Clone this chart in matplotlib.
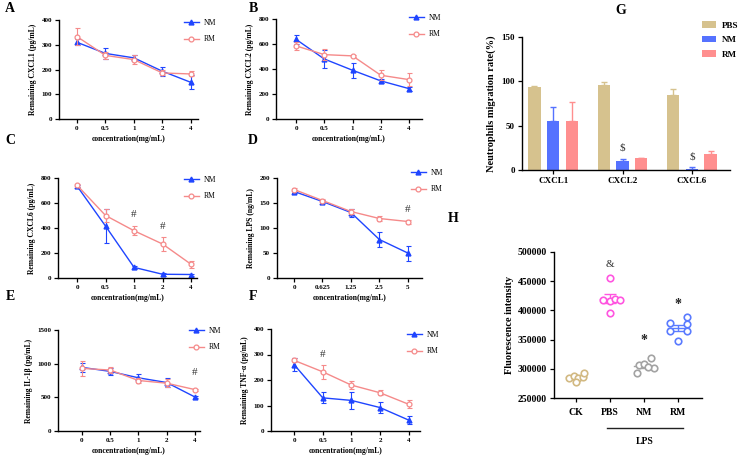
import numpy as np
import matplotlib
matplotlib.use('Agg')
from matplotlib import pyplot as plt
from matplotlib import transforms

plt.rcParams['font.family'] = ['Liberation Serif', 'DejaVu Serif']
plt.rcParams['font.weight'] = 'bold'
plt.rcParams['axes.linewidth'] = 1.0

W, H = 740, 457

NM_COLOR = '#1f45ff'
RM_COLOR = '#f58a8a'

# --- line panels A-F ---
conc = ['0', '0.5', '1', '2', '4']
conc_lps = ['0', '0.625', '1.25', '2.5', '5']

cxcl1_nm = [310, 265, 247, 193, 148]
cxcl1_nm_err = [12, 22, 10, 18, 28]
cxcl1_rm = [333, 257, 240, 186, 182]
cxcl1_rm_err = [35, 15, 17, 10, 10]

cxcl2_nm = [637, 480, 390, 305, 243]
cxcl2_nm_err = [35, 75, 60, 15, 15]
cxcl2_rm = [585, 515, 505, 350, 315]
cxcl2_rm_err = [35, 45, 10, 40, 50]

cxcl6_nm = [735, 415, 85, 30, 28]
cxcl6_nm_err = [10, 135, 15, 10, 8]
cxcl6_rm = [742, 500, 378, 272, 110]
cxcl6_rm_err = [10, 50, 35, 55, 30]

lps_nm = [173, 153, 131, 77, 50]
lps_nm_err = [3, 3, 8, 15, 15]
lps_rm = [177, 155, 133, 119, 113]
lps_rm_err = [3, 3, 5, 5, 4]

il1b_nm = [945, 885, 790, 720, 505]
il1b_nm_err = [70, 50, 50, 70, 20]
il1b_rm = [930, 905, 750, 710, 615]
il1b_rm_err = [110, 50, 30, 60, 15]

tnfa_nm = [260, 130, 120, 92, 43]
tnfa_nm_err = [25, 22, 32, 20, 17]
tnfa_rm = [277, 232, 180, 150, 105]
tnfa_rm_err = [8, 28, 15, 10, 15]

# --- panel G ---
chemokines = ['CXCL1', 'CXCL2', 'CXCL6']
mig_pbs = [94, 96, 85]
mig_pbs_err = [1, 3, 6]
mig_nm = [55, 10, 1]
mig_nm_err = [16, 2, 2]
mig_rm = [55, 13, 18]
mig_rm_err = [22, 1, 3]

# --- panel H ---
h_groups = ['CK', 'PBS', 'NM', 'RM']
h_ck = [284000, 287000, 285000, 286000, 292000, 278000]
h_pbs = [455000, 418000, 416000, 419000, 417000, 395000]
h_nm = [306000, 293000, 318000, 308000, 302000, 303000]
h_rm = [378000, 388000, 377000, 365000, 365000, 348000]

fig = plt.figure(figsize=(W / 100, H / 100), dpi=100)


def add_ax(left, top, right, bottom):
    return fig.add_axes([left / W, 1 - bottom / H, (right - left) / W, (bottom - top) / H])


def style_ax(ax, fs):
    ax.spines['top'].set_visible(False)
    ax.spines['right'].set_visible(False)
    ax.tick_params(direction='out', length=3, width=0.9, labelsize=fs, pad=2)
    for t in ax.get_xticklabels() + ax.get_yticklabels():
        t.set_fontweight('bold')


def line_panel(box, xlim, labels, nm, nm_err, rm, rm_err, ymax, ystep,
               ylabel, leg_xy, marks):
    ax = add_ax(*box)
    x = np.arange(len(labels))
    ax.errorbar(x, nm, yerr=nm_err, fmt='none', ecolor=NM_COLOR,
                elinewidth=0.8, capsize=1.8, capthick=0.8)
    ax.plot(x, nm, color=NM_COLOR, marker='^', ms=3.5, lw=1.0, label='NM')
    ax.errorbar(x, rm, yerr=rm_err, fmt='none', ecolor=RM_COLOR,
                elinewidth=0.8, capsize=1.8, capthick=0.8)
    ax.plot(x, rm, color=RM_COLOR, marker='o', ms=3.5, lw=1.0, mfc='white',
            mew=0.9, label='RM')
    ax.set_xlim(*xlim)
    ax.set_ylim(0, ymax)
    ax.set_xticks(x)
    ax.set_xticklabels(labels)
    ax.set_yticks(np.arange(0, ymax + 1, ystep))
    ax.set_xlabel('concentration(mg/mL)', fontsize=5.5, fontweight='bold', labelpad=3)
    ax.set_ylabel(ylabel, fontsize=5.5, fontweight='bold', labelpad=3)
    style_ax(ax, 5)
    # marks are (category index, y value)
    for mx, my in marks:
        ax.text(mx, my, '#', ha='center', va='center', fontsize=8,
                fontweight='normal', color='#333333')
    ax.legend(loc='center left', bbox_to_anchor=(leg_xy[0] / W, 1 - leg_xy[1] / H),
              bbox_transform=fig.transFigure, frameon=False,
              handlelength=2.0, labelspacing=1.1, borderpad=0, handletextpad=0.6,
              prop={'weight': 'normal', 'size': 5.5})
    return ax


line_panel((59, 20, 198, 119), (-0.63, 4.25), conc, cxcl1_nm, cxcl1_nm_err,
           cxcl1_rm, cxcl1_rm_err, 400, 100, 'Remaining CXCL1 (pg/mL)',
           (180, 31), [])
line_panel((276, 19, 422, 119), (-0.71, 4.46), conc, cxcl2_nm, cxcl2_nm_err,
           cxcl2_rm, cxcl2_rm_err, 800, 200, 'Remaining CXCL2 (pg/mL)',
           (405, 26), [])
line_panel((58, 178, 197, 278), (-0.67, 4.21), conc, cxcl6_nm, cxcl6_nm_err,
           cxcl6_rm, cxcl6_rm_err, 800, 200, 'Remaining CXCL6 (pg/mL)',
           (180, 188), [(2, 510), (3, 410)])
line_panel((277, 178, 422, 278), (-0.6, 4.5), conc_lps, lps_nm, lps_nm_err,
           lps_rm, lps_rm_err, 200, 50, 'Remaining LPS (ng/mL)',
           (407, 181), [(4, 137)])
line_panel((58, 330, 200, 431), (-0.85, 4.18), conc, il1b_nm, il1b_nm_err,
           il1b_rm, il1b_rm_err, 1500, 500, 'Remaining IL-1β (pg/mL)',
           (185, 339), [(4, 870)])
line_panel((271, 329, 420, 431), (-0.81, 4.4), conc, tnfa_nm, tnfa_nm_err,
           tnfa_rm, tnfa_rm_err, 400, 100, 'Remaining TNF-α (pg/mL)',
           (403, 343), [(1, 300)])

# --- G: bars ---
axg = add_ax(522, 37, 730, 170)
xg = np.arange(len(chemokines))
bw = 0.18
off = 0.27
bar_sets = [(mig_pbs, mig_pbs_err, '#d6c28e', 'PBS'),
            (mig_nm, mig_nm_err, '#5572ff', 'NM'),
            (mig_rm, mig_rm_err, '#ff8f8f', 'RM')]
for i, (vals, errs, col, lab) in enumerate(bar_sets):
    pos = xg + (i - 1) * off
    axg.bar(pos, vals, width=bw, color=col, label=lab)
    axg.errorbar(pos, vals, yerr=[np.zeros(len(errs)), errs], fmt='none',
                 ecolor=col, elinewidth=1.0, capsize=2.5, capthick=1.0)
axg.set_xlim(-0.45, 2.55)
axg.set_ylim(0, 150)
axg.set_yticks([0, 50, 100, 150])
axg.set_xticks(xg)
axg.set_xticklabels(chemokines)
axg.set_ylabel('Neutrophils migration rate(%)', fontsize=7.5, fontweight='bold', labelpad=4)
style_ax(axg, 6.5)
axg.text(1, 25, '$', ha='center', va='center', fontsize=8, fontweight='normal', color='#333333')
axg.text(2, 15, '$', ha='center', va='center', fontsize=8, fontweight='normal', color='#333333')
axg.legend(loc='center left', bbox_to_anchor=(697 / W, 1 - 40 / H),
           bbox_transform=fig.transFigure, frameon=False,
           handlelength=1.6, handleheight=0.7, labelspacing=0.7, borderpad=0,
           handletextpad=0.6, prop={'weight': 'bold', 'size': 6.5})

# --- H: scatter ---
axh = add_ax(554, 252, 702, 398)
h_colors = ['#d2b982', '#ff55e0', '#a3a3a3', '#5a7bff']
h_data = [h_ck, h_pbs, h_nm, h_rm]
# horizontal spread of the dots inside each group
spread = [[-0.2, -0.05, 0.05, 0.2, 0.22, 0.0],
          [0.0, -0.2, 0.0, 0.15, 0.3, 0.0],
          [-0.15, -0.2, 0.2, 0.0, 0.28, 0.1],
          [-0.25, 0.25, 0.25, 0.25, -0.25, 0.0]]
for i, (vals, col) in enumerate(zip(h_data, h_colors)):
    vals = np.array(vals)
    xs = i + np.array(spread[i])
    axh.scatter(xs, vals, s=22, facecolors='white', edgecolors=col, linewidths=1.2, zorder=3)
    m = vals.mean()
    sem = vals.std(ddof=1) / np.sqrt(len(vals))
    axh.plot([i - 0.3, i + 0.3], [m, m], color=col, lw=1.0, zorder=2)
    axh.errorbar([i], [m], yerr=[sem], fmt='none', ecolor=col, elinewidth=1.0,
                 capsize=4, capthick=1.0, zorder=2)
axh.set_xlim(-0.65, 3.7)
axh.set_ylim(250000, 500000)
axh.set_yticks(np.arange(250000, 500001, 50000))
axh.set_xticks(np.arange(len(h_groups)))
axh.set_xticklabels(h_groups)
axh.set_ylabel('Fluorescence intensity', fontsize=7.5, fontweight='bold', labelpad=3)
style_ax(axh, 7)
axh.tick_params(axis='x', length=3, pad=4)
axh.text(1, 478000, '&', ha='center', va='center', fontsize=8, fontweight='normal', color='#333333')
axh.text(2, 348000, '*', ha='center', va='center', fontsize=10, fontweight='bold', color='#222222')
axh.text(3, 410000, '*', ha='center', va='center', fontsize=10, fontweight='bold', color='#222222')
tr = transforms.blended_transform_factory(axh.transData, axh.transAxes)
axh.plot([0.9, 3.15], [-0.205, -0.205], color='#222222', lw=1.0, transform=tr, clip_on=False)
axh.text(2.03, -0.27, 'LPS', ha='center', va='top', fontsize=7, fontweight='bold', transform=tr)

# panel letters
for letter, lx, ly in [('A', 10, 8), ('B', 253, 8), ('C', 10, 141), ('D', 253, 141),
                       ('E', 10, 296), ('F', 253, 296), ('G', 621, 10), ('H', 453, 218)]:
    fig.text(lx / W, 1 - ly / H, letter, fontsize=10, fontweight='bold', va='center', ha='center')

fig.savefig('out.png', dpi=100)
